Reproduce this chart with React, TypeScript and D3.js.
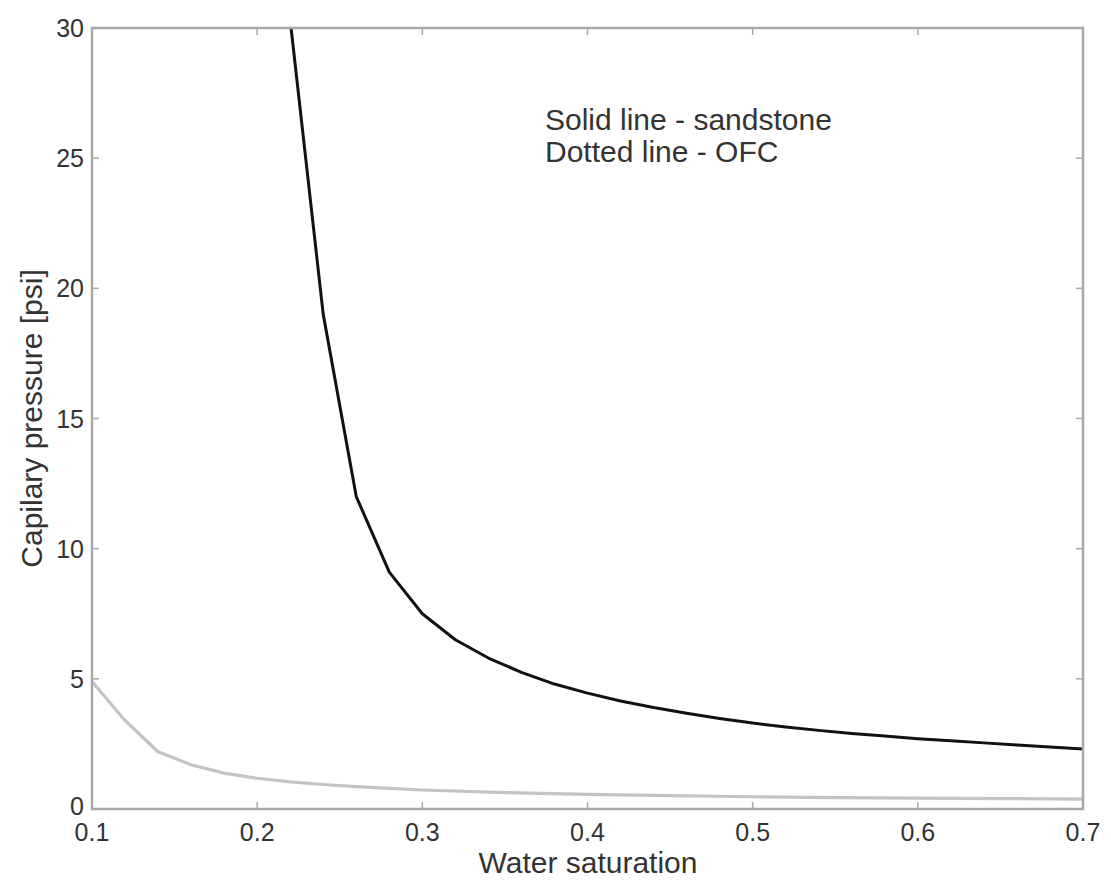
import React from "react";
import * as d3 from "d3";

const sandstoneSw = [0.22, 0.24, 0.26, 0.28, 0.30, 0.32, 0.34, 0.36, 0.38, 0.40, 0.42, 0.44, 0.46, 0.48, 0.50, 0.52, 0.54, 0.56, 0.58, 0.60, 0.62, 0.64, 0.66, 0.68, 0.70];
const sandstonePc = [30.3, 19.0, 12.0, 9.1, 7.5, 6.5, 5.8, 5.25, 4.8, 4.45, 4.15, 3.9, 3.68, 3.48, 3.3, 3.15, 3.02, 2.9, 2.8, 2.7, 2.62, 2.54, 2.46, 2.38, 2.3];
const ofcSw = [0.10, 0.12, 0.14, 0.16, 0.18, 0.20, 0.22, 0.24, 0.26, 0.28, 0.30, 0.35, 0.40, 0.45, 0.50, 0.55, 0.60, 0.65, 0.70];
const ofcPc = [4.9, 3.4, 2.2, 1.7, 1.38, 1.18, 1.04, 0.94, 0.86, 0.79, 0.73, 0.63, 0.56, 0.51, 0.47, 0.44, 0.42, 0.40, 0.38];
const xTicks = [0.1, 0.2, 0.3, 0.4, 0.5, 0.6, 0.7];
const xTickLabels = ["0.1", "0.2", "0.3", "0.4", "0.5", "0.6", "0.7"];
const yTicks = [0, 5, 10, 15, 20, 25, 30];
const yTickLabels = ["0", "5", "10", "15", "20", "25", "30"];

export default function App() {
  const W = 1111, H = 888;
  const left = 92, right = 1083, top = 28, bottom = 809;
  const x = d3.scaleLinear().domain([0.1, 0.7]).range([left, right]);
  const y = d3.scaleLinear().domain([0, 30]).range([bottom, top]);
  const line = d3.line<[number, number]>().x(d => x(d[0])).y(d => y(d[1]));
  const sand = line(sandstoneSw.map((s, i) => [s, sandstonePc[i]] as [number, number])) || "";
  const ofc = line(ofcSw.map((s, i) => [s, ofcPc[i]] as [number, number])) || "";
  const font = "Liberation Sans, Arial, sans-serif";
  const axisColor = "#a8a8a8";
  const textColor = "#333";
  const tl = 7;
  return (
    <svg width={W} height={H} style={{ position: "absolute", left: 0, top: 0, background: "#fff" }}>
      <defs>
        <clipPath id="plotclip">
          <rect x={left} y={top} width={right - left} height={bottom - top} />
        </clipPath>
      </defs>
      <rect x={0} y={0} width={W} height={H} fill="#fff" />
      <g clipPath="url(#plotclip)">
        <path d={ofc} fill="none" stroke="#c4c4c4" strokeWidth={3.2} strokeLinejoin="round" />
        <path d={sand} fill="none" stroke="#111" strokeWidth={3} strokeLinejoin="round" />
      </g>
      <rect x={left} y={top} width={right - left} height={bottom - top} fill="none" stroke={axisColor} strokeWidth={2.5} />
      {xTicks.map((t, i) => (
        <g key={"x" + i}>
          <line x1={x(t)} x2={x(t)} y1={bottom} y2={bottom - tl} stroke={axisColor} strokeWidth={1.5} />
          <line x1={x(t)} x2={x(t)} y1={top} y2={top + tl} stroke={axisColor} strokeWidth={1.5} />
          <text x={x(t)} y={bottom + 32} textAnchor="middle" fontFamily={font} fontSize={25} fill={textColor}>{xTickLabels[i]}</text>
        </g>
      ))}
      {yTicks.map((t, i) => (
        <g key={"y" + i}>
          <line x1={left} x2={left + tl} y1={y(t)} y2={y(t)} stroke={axisColor} strokeWidth={1.5} />
          <line x1={right} x2={right - tl} y1={y(t)} y2={y(t)} stroke={axisColor} strokeWidth={1.5} />
          <text x={left - 8} y={y(t) + (t === 0 ? 6 : 9)} textAnchor="end" fontFamily={font} fontSize={25} fill={textColor}>{yTickLabels[i]}</text>
        </g>
      ))}
      <text x={588} y={873} textAnchor="middle" fontFamily={font} fontSize={30} fill={textColor}>Water saturation</text>
      <text transform={`translate(42, ${(top + bottom) / 2}) rotate(-90)`} textAnchor="middle" fontFamily={font} fontSize={30} fill={textColor}>Capilary pressure [psi]</text>
      <text x={545} y={130} fontFamily={font} fontSize={30} fill={textColor}>Solid line - sandstone</text>
      <text x={545} y={162} fontFamily={font} fontSize={30} fill={textColor}>Dotted line - OFC</text>
    </svg>
  );
}
